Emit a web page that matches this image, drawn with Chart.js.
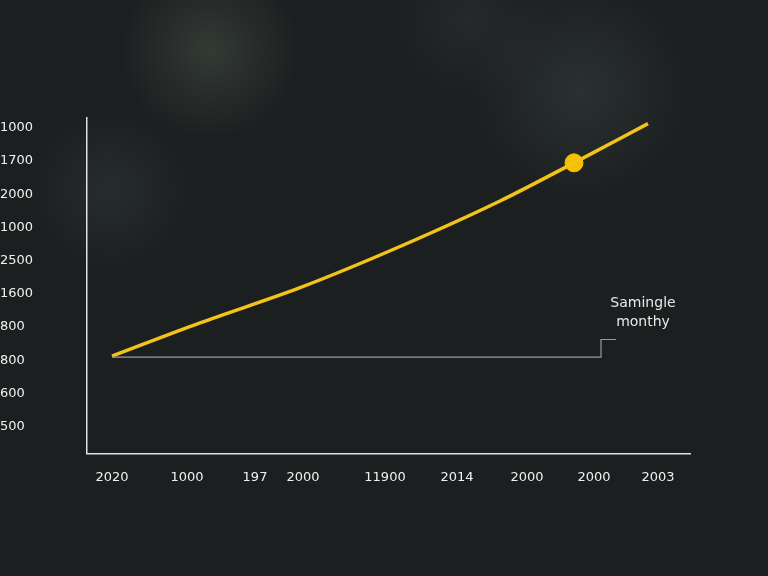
<!DOCTYPE html>
<html><head><meta charset="utf-8">
<script src="https://cdn.jsdelivr.net/npm/chart.js@4"></script>
<style>
html,body{margin:0;padding:0;width:768px;height:576px;overflow:hidden;
background:
radial-gradient(circle at 210px 50px, rgba(70,80,70,0.55), transparent 90px),
radial-gradient(circle at 580px 90px, rgba(60,70,70,0.45), transparent 110px),
radial-gradient(circle at 110px 190px, rgba(55,65,65,0.4), transparent 80px),
radial-gradient(circle at 470px 20px, rgba(55,60,60,0.35), transparent 80px),
#1c1f20;}
canvas{position:absolute;left:0;top:0;}
</style></head><body>
<canvas id="c" width="768" height="576"></canvas>
<script>
const yTickValues=[1,2,3,4,5,6,7,8,9,10];
const yTickLabels=["500","600","800","800","1600","2500","1000","2000","1700","1000"];
const xTickValues=[25,100,168,216,298,370,440,507,571];
const xTickLabels=["2020","1000","197","2000","11900","2014","2000","2000","2003"];
const curveX=[25,113,213,313,413,487,561];
const curveY=[2.93,3.93,4.99,6.23,7.6,8.75,9.93];
const markerX=[487];const markerY=[8.75];
const refX=[25,514,514,529];const refY=[2.9,2.9,3.43,3.43];
const noteLines=["Samingle","monthy"];
const pts=(xs,ys)=>xs.map((x,i)=>({x,y:ys[i]}));
const notePlugin={id:'note',afterDatasetsDraw(ch){const c=ch.ctx,xs=ch.scales.x,ys=ch.scales.y;
c.save();c.fillStyle='#e8e8e8';c.font='14px "DejaVu Sans", sans-serif';c.textAlign='center';
c.fillText(noteLines[0],xs.getPixelForValue(556),ys.getPixelForValue(4.4));
c.fillText(noteLines[1],xs.getPixelForValue(556),ys.getPixelForValue(3.85));c.restore();}};
new Chart(document.getElementById('c'),{type:'scatter',
data:{datasets:[
{data:pts(refX,refY),showLine:true,borderColor:'#9a9a9a',borderWidth:1.2,pointRadius:0,tension:0},
{data:pts(curveX,curveY),showLine:true,borderColor:'#f2c318',borderWidth:3.5,pointRadius:0,tension:0.4,cubicInterpolationMode:'monotone'},
{data:pts(markerX,markerY),backgroundColor:'#f5c000',borderColor:'#f5c000',pointRadius:9}
]},
options:{responsive:false,animation:false,devicePixelRatio:1,
layout:{padding:{left:0,right:78,top:118,bottom:75}},
plugins:{legend:{display:false},tooltip:{enabled:false}},
scales:{
x:{type:'linear',min:0,max:603,grid:{display:false,drawTicks:false},border:{color:'#e0e0e0',width:1.5},
afterBuildTicks:s=>{s.ticks=xTickValues.map(v=>({value:v}));},
ticks:{color:'#f0f0f0',font:{size:13,family:'"DejaVu Sans", sans-serif'},padding:16,maxRotation:0,autoSkip:false,
callback:(v)=>{const i=xTickValues.indexOf(v);return i>=0?xTickLabels[i]:'';}}},
y:{type:'linear',min:0,max:10.1,grid:{display:false,drawTicks:false},border:{color:'#e0e0e0',width:1.5},
afterBuildTicks:s=>{s.ticks=yTickValues.map(v=>({value:v}));},
afterFit:s=>{s.width=87;},
ticks:{color:'#f0f0f0',font:{size:13,family:'"DejaVu Sans", sans-serif'},padding:12,align:'start',crossAlign:'far',autoSkip:false,
callback:(v)=>{const i=yTickValues.indexOf(v);return i>=0?yTickLabels[i]:'';}}}
}},plugins:[notePlugin]});
</script>
</body></html>
